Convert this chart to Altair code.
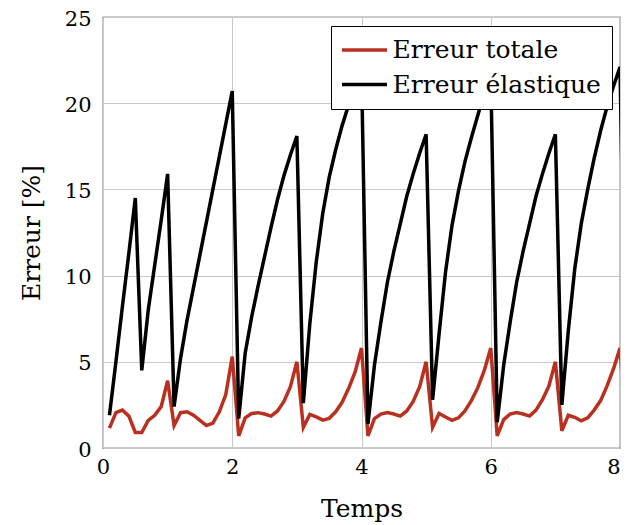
import altair as alt
import pandas as pd

temps = [0.1, 0.2, 0.3, 0.4, 0.5, 0.6, 0.7, 0.8, 0.9, 1.0,
         1.1, 1.2, 1.3, 1.4, 1.5, 1.6, 1.7, 1.8, 1.9, 2.0,
         2.1, 2.2, 2.3, 2.4, 2.5, 2.6, 2.7, 2.8, 2.9, 3.0,
         3.1, 3.2, 3.3, 3.4, 3.5, 3.6, 3.7, 3.8, 3.9, 4.0,
         4.1, 4.2, 4.3, 4.4, 4.5, 4.6, 4.7, 4.8, 4.9, 5.0,
         5.1, 5.2, 5.3, 5.4, 5.5, 5.6, 5.7, 5.8, 5.9, 6.0,
         6.1, 6.2, 6.3, 6.4, 6.5, 6.6, 6.7, 6.8, 6.9, 7.0,
         7.1, 7.2, 7.3, 7.4, 7.5, 7.6, 7.7, 7.8, 7.9, 8.0,
         8.1]

erreur_totale = [1.15, 2.05, 2.2, 1.85, 0.9, 0.9, 1.6, 1.9, 2.4, 3.9,
                 1.3, 2.05, 2.1, 1.9, 1.6, 1.3, 1.45, 2.1, 3.1, 5.3,
                 0.7, 1.75, 2.0, 2.05, 1.97, 1.85, 2.15, 2.7, 3.55, 5.0,
                 1.2, 1.95, 1.8, 1.62, 1.72, 2.1, 2.65, 3.45, 4.4, 5.8,
                 0.7, 1.7, 1.97, 2.05, 1.97, 1.85, 2.15, 2.7, 3.55, 5.0,
                 1.2, 2.0, 1.8, 1.6, 1.75, 2.15, 2.75, 3.5, 4.5, 5.8,
                 0.7, 1.65, 1.97, 2.05, 1.97, 1.85, 2.2, 2.8, 3.6, 5.0,
                 1.0, 1.9, 1.78, 1.58, 1.75, 2.2, 2.75, 3.6, 4.6, 5.8,
                 0.7]

erreur_elastique = [1.9, 5.0, 8.2, 11.3, 14.5, 4.5, 8.0, 10.6, 13.2, 15.9,
                    2.4, 5.2, 7.4, 9.3, 11.2, 13.1, 15.0, 16.9, 18.8, 20.7,
                    1.7, 5.5, 7.6, 9.4, 11.1, 12.8, 14.4, 15.8, 17.0, 18.1,
                    2.6, 7.2, 10.8, 13.6, 15.7, 17.3, 18.7, 19.9, 21.0, 22.0,
                    1.4, 4.8, 7.3, 9.6, 11.4, 13.0, 14.6, 15.9, 17.1, 18.2,
                    2.8, 6.6, 10.2, 12.9, 14.9, 16.6, 18.0, 19.3, 20.6, 21.8,
                    1.5, 4.8, 7.3, 9.6, 11.4, 13.0, 14.6, 15.9, 17.1, 18.2,
                    2.5, 6.8, 10.4, 13.0, 15.0, 16.8, 18.4, 19.8, 21.0, 22.1,
                    1.5]

series_names = ["Erreur totale", "Erreur élastique"]
series_colors = ["#BA3020", "#000000"]
x_ticks = [0, 2, 4, 6, 8]
y_ticks = [0, 5, 10, 15, 20, 25]

df = pd.concat([
    pd.DataFrame({"Temps": temps, "Erreur": erreur_totale, "serie": series_names[0], "ordre": 0}),
    pd.DataFrame({"Temps": temps, "Erreur": erreur_elastique, "serie": series_names[1], "ordre": 1}),
], ignore_index=True)

FONT = "DejaVu Serif"

chart = alt.Chart(df).mark_line(clip=True, strokeWidth=3.5, strokeJoin="miter").encode(
    x=alt.X("Temps:Q", title="Temps",
            scale=alt.Scale(domain=[0, 8], nice=False, zero=False),
            axis=alt.Axis(values=x_ticks, labelPadding=8, titlePadding=19,
                          labelFlush=False,
                          labelAlign={"condition": {"test": "datum.value == 8", "value": "right"},
                                      "value": "center"})),
    y=alt.Y("Erreur:Q", title="Erreur [%]",
            scale=alt.Scale(domain=[0, 25], nice=False),
            axis=alt.Axis(values=y_ticks, labelPadding=12, titlePadding=20,
                          labelOffset=2, labelFlush=False)),
    color=alt.Color("serie:N",
                    scale=alt.Scale(domain=series_names, range=series_colors),
                    legend=alt.Legend(title=None, orient="none", legendX=228, legendY=9,
                                      symbolType="M-2,0H2", symbolSize=506,
                                      symbolStrokeWidth=3.5, symbolOffset=9.5,
                                      labelFont=FONT, labelFontSize=25, labelColor="black",
                                      labelLimit=400,
                                      labelOffset=15, padding=11, rowPadding=8.5,
                                      strokeColor="black", fillColor="white",
                                      cornerRadius=0)),
    order=alt.Order("ordre:Q"),
    detail="serie:N",
).properties(
    width=517, height=431,
    autosize=alt.AutoSizeParams(type="none"),
    padding={"left": 95, "top": 9, "right": 1, "bottom": 76},
).configure_view(
    stroke="#333333", strokeWidth=1.2
).configure_axis(
    domain=False, ticks=False, grid=True, gridColor="#c8c8c8", gridWidth=1,
    labelFont=FONT, labelFontSize=21, labelColor="black",
    titleFont=FONT, titleFontSize=25, titleFontWeight="normal", titleColor="black",
)

chart.save("out.html", embed_options={"renderer": "svg", "actions": False})
